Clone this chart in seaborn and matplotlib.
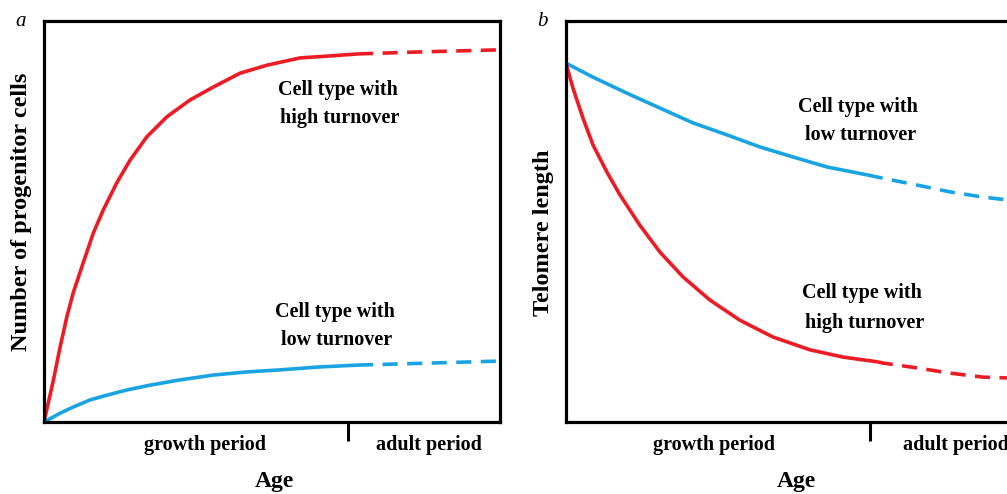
import matplotlib
matplotlib.use("Agg")
import matplotlib.pyplot as plt
import seaborn as sns
import pandas as pd

sns.set_style("white")
plt.rcParams['font.family'] = ['Liberation Serif', 'DejaVu Serif']
plt.rcParams['text.color'] = 'black'

RED = '#ED1C24'
BLUE = '#1AA3E3'

# panel a - number of progenitor cells (age 0..15, adult from 10)
a_high_x = [0, 0.31, 0.53, 0.75, 0.96, 1.29, 1.62, 1.95, 2.39, 2.83, 3.38, 4.04,
            4.80, 5.56, 6.45, 7.34, 8.42, 9.41, 10.33]
a_high_y = [0, 10.5, 18.7, 26.2, 32.2, 39.7, 47.1, 52.9, 59.6, 65.3, 71.1, 76.1,
            80.3, 83.5, 87.0, 89.0, 90.8, 91.3, 91.8]
a_high_dash_x = [10.33, 12.37, 14.9, 15]
a_high_dash_y = [91.8, 92.3, 92.8, 92.8]

a_low_x = [0, 0.53, 0.95, 1.51, 2.07, 2.73, 3.49, 4.47, 5.56, 6.68, 7.76, 8.98, 10.33]
a_low_y = [0, 2.2, 3.7, 5.5, 6.7, 8.0, 9.2, 10.5, 11.7, 12.5, 13.0, 13.7, 14.2]
a_low_dash_x = [10.33, 12.7, 15]
a_low_dash_y = [14.2, 14.7, 15.2]

# panel b - telomere length
b_low_x = [0, 0.89, 2.01, 3.09, 4.18, 5.30, 6.38, 7.47, 8.59, 9.93]
b_low_y = [89.5, 86.0, 82.0, 78.3, 74.6, 71.6, 68.6, 66.1, 63.6, 61.6]
b_low_dash_x = [9.93, 10.43, 11.55, 12.63, 13.72, 14.51, 15.0]
b_low_dash_y = [61.6, 60.8, 59.1, 57.4, 56.1, 55.4, 54.6]

b_high_x = [0, 0.23, 0.56, 0.89, 1.35, 1.78, 2.43, 3.09, 3.85, 4.74, 5.72, 6.81,
            8.03, 9.11, 10.26]
b_high_y = [89.5, 83.3, 75.8, 69.1, 62.3, 56.6, 49.1, 42.4, 36.2, 30.4, 25.4, 21.2,
            18.0, 16.2, 15.0]
b_high_dash_x = [10.26, 10.43, 11.55, 12.63, 13.72, 14.51, 15.0]
b_high_dash_y = [15.0, 14.7, 13.5, 12.2, 11.2, 11.0, 10.9]

adult_start = 10

fig = plt.figure(figsize=(10.07, 4.94), dpi=100)
ax_a = fig.add_axes([0.0437, 0.1457, 0.4528, 0.8117])
ax_b = fig.add_axes([0.562, 0.1457, 0.4528, 0.8117])

lw = 2.6
dash = (4.2, 2.6)


def draw(ax, x, y, color, dashed=False):
    df = pd.DataFrame({'age': x, 'val': y})
    sns.lineplot(data=df, x='age', y='val', ax=ax, color=color, lw=lw,
                 sort=False, estimator=None)
    ln = ax.lines[-1]
    if dashed:
        ln.set_dashes(dash)
    ln.set_solid_joinstyle('round')
    ln.set_solid_capstyle('butt')


draw(ax_a, a_high_x, a_high_y, RED)
draw(ax_a, a_high_dash_x, a_high_dash_y, RED, True)
draw(ax_a, a_low_x, a_low_y, BLUE)
draw(ax_a, a_low_dash_x, a_low_dash_y, BLUE, True)

draw(ax_b, b_low_x, b_low_y, BLUE)
draw(ax_b, b_low_dash_x, b_low_dash_y, BLUE, True)
draw(ax_b, b_high_x, b_high_y, RED)
draw(ax_b, b_high_dash_x, b_high_dash_y, RED, True)

bold = dict(fontweight='bold', fontsize=14.5, ha='center', va='center')

for ax, letter, ylab, ycen, gx, adx in [(ax_a, 'a', 'Number of progenitor cells', 0.524, 0.353, 0.844),
                                        (ax_b, 'b', 'Telomere length', 0.471, 0.325, 0.855)]:
    ax.set_xlim(0, 15)
    ax.set_ylim(0, 100)
    for s in ax.spines.values():
        s.set_visible(True)
        s.set_linewidth(2.3)
        s.set_color('black')
    ax.set_xticks([adult_start])
    ax.set_xticklabels([''])
    ax.set_yticks([])
    ax.tick_params(axis='x', direction='out', length=14, width=2.2, color='black', bottom=True)
    ax.set_xlabel('')
    ax.set_ylabel('')
    ax.text(-0.05, ycen, ylab, transform=ax.transAxes, rotation=90,
            fontweight='bold', fontsize=17.5, ha='center', va='center')
    ax.text(-0.052, 1.0, letter, transform=ax.transAxes, style='italic',
            fontsize=15, ha='center', va='center')
    ax.text(0.505, -0.175, 'Age', transform=ax.transAxes,
            fontweight='bold', fontsize=17, ha='center', va='bottom')
    ax.text(gx, -0.057, 'growth period', transform=ax.transAxes, **bold)
    ax.text(adx, -0.057, 'adult period', transform=ax.transAxes, **bold)

ax_a.text(0.645, 0.828, 'Cell type with', transform=ax_a.transAxes, **bold)
ax_a.text(0.648, 0.758, 'high turnover', transform=ax_a.transAxes, **bold)
ax_a.text(0.638, 0.274, 'Cell type with', transform=ax_a.transAxes, **bold)
ax_a.text(0.642, 0.204, 'low turnover', transform=ax_a.transAxes, **bold)

ax_b.text(0.640, 0.786, 'Cell type with', transform=ax_b.transAxes, **bold)
ax_b.text(0.647, 0.716, 'low turnover', transform=ax_b.transAxes, **bold)
ax_b.text(0.650, 0.322, 'Cell type with', transform=ax_b.transAxes, **bold)
ax_b.text(0.654, 0.247, 'high turnover', transform=ax_b.transAxes, **bold)

fig.savefig('out.png', dpi=100)
